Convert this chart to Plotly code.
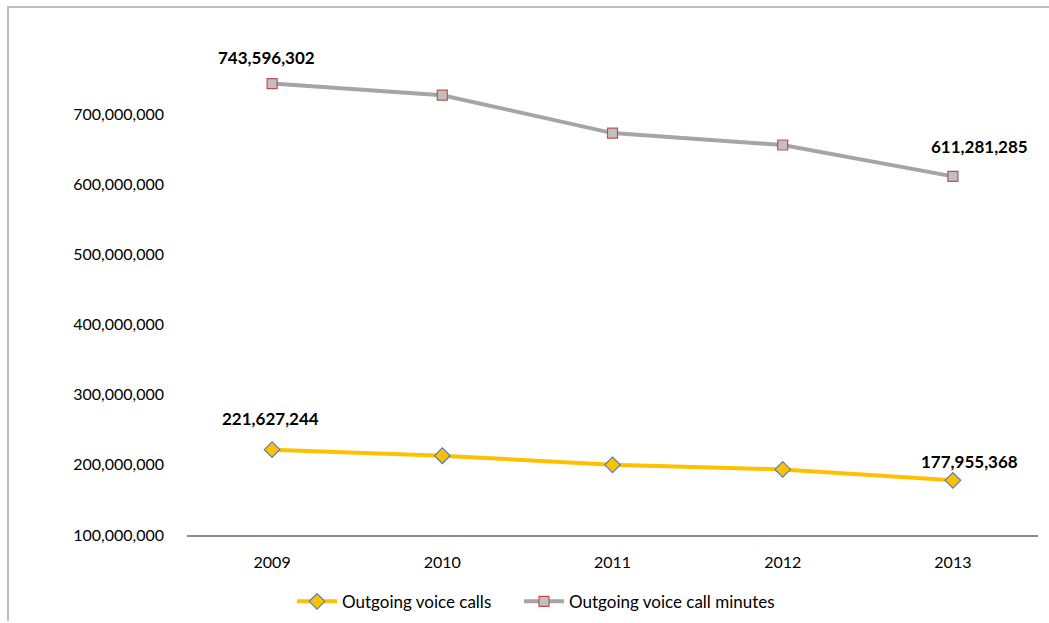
import plotly.graph_objects as go

years = ["2009", "2010", "2011", "2012", "2013"]
calls = [221627244, 213000000, 200000000, 193500000, 177955368]
minutes = [743596302, 727000000, 673000000, 656000000, 611281285]
y_ticks = [100000000, 200000000, 300000000, 400000000, 500000000, 600000000, 700000000]

FONT = "Lato"

fig = go.Figure()
fig.add_trace(go.Scatter(
    x=years, y=calls, name="Outgoing voice calls", mode="lines+markers", legend="legend",
    line=dict(color="#FFC000", width=4),
    marker=dict(symbol="diamond", size=12, color="#FFC000", line=dict(color="#4F81BD", width=1.2)),
))
fig.add_trace(go.Scatter(
    x=years, y=minutes, name="Outgoing voice call minutes", mode="lines+markers", legend="legend2",
    line=dict(color="#A5A5A5", width=4),
    marker=dict(symbol="square", size=10, color="#C0C0C0", line=dict(color="#C0504D", width=1.2)),
))

first, last = 0, len(years) - 1
labels = [
    (first, minutes[first], -6, 26),
    (last, minutes[last], 27, 30),
    (first, calls[first], -2, 31),
    (last, calls[last], 17, 19),
]
for x, y, xs, ys in labels:
    fig.add_annotation(x=x, y=y, text="<b>{:,}</b>".format(y), showarrow=False,
                       xshift=xs, yshift=ys, font=dict(family=FONT, size=17, color="#000000"))

# outer chart border (left and top edges)
fig.add_shape(type="path", xref="paper", yref="paper",
              path="M {} {} L {} {} L {} {}".format((8 - 187) / 851, (535 - 621) / 491,
                                                      (8 - 187) / 851, (535 - 7) / 491,
                                                      (1049 - 187) / 851, (535 - 7) / 491),
              line=dict(color="#BFBFBF", width=2))

legend_style = dict(orientation="h", xref="container", yref="container", xanchor="left",
                    y=0.034, yanchor="middle", font=dict(family=FONT, size=17, color="#000000"),
                    itemwidth=40, bgcolor="rgba(0,0,0,0)")

fig.update_layout(
    width=1049, height=623,
    margin=dict(l=187, r=11, t=44, b=88),
    paper_bgcolor="white", plot_bgcolor="white",
    font=dict(family=FONT, size=16, color="#000000"),
    showlegend=True,
    legend=dict(legend_style, x=292 / 1049),
    legend2=dict(legend_style, x=519 / 1049),
)
fig.update_xaxes(type="category", range=[-0.5, len(years) - 0.5], showgrid=False, showline=True,
                 linecolor="#8C8C8C", linewidth=1.5, ticks="", tickfont=dict(family=FONT, size=16),
                 ticklabelstandoff=12, zeroline=False)
fig.update_yaxes(range=[100000000, 800000000], tickvals=y_ticks, tickformat=",d", showgrid=False,
                 showline=False, zeroline=False, ticks="", tickfont=dict(family=FONT, size=16),
                 ticklabelstandoff=22)

fig.write_html("out.html")
